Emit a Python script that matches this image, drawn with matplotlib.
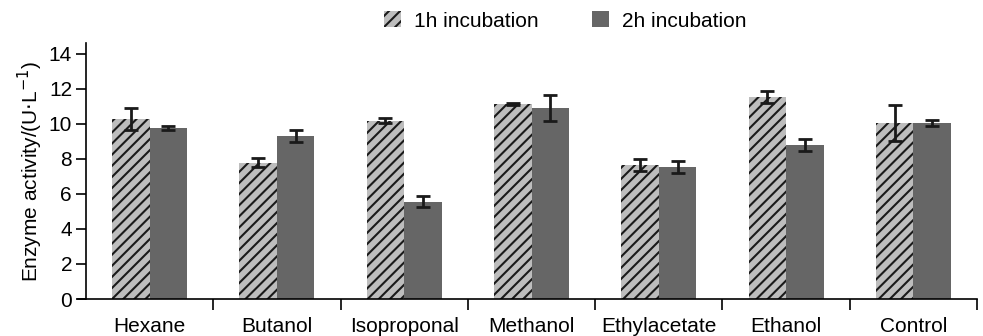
import numpy as np
import matplotlib
matplotlib.use('Agg')
import matplotlib.pyplot as plt

plt.rcParams['font.family'] = ['Liberation Sans', 'DejaVu Sans']
plt.rcParams['hatch.linewidth'] = 1.5

# data
solvents = ['Hexane', 'Butanol', 'Isoproponal', 'Methanol', 'Ethylacetate', 'Ethanol', 'Control']
act_1h = [10.27, 7.77, 10.17, 11.12, 7.64, 11.52, 10.04]
err_1h = [0.63, 0.25, 0.15, 0.07, 0.32, 0.33, 1.0]
act_2h = [9.75, 9.31, 5.56, 10.88, 7.54, 8.76, 10.04]
err_2h = [0.12, 0.33, 0.30, 0.75, 0.36, 0.34, 0.16]

fig = plt.figure(figsize=(9.83, 3.36), dpi=100)
ax = fig.add_axes([0.0875, 0.110, 0.9064, 0.762])

x = np.arange(len(solvents))
w = 0.295
ekw = dict(ecolor='#1a1a1a', elinewidth=2, capsize=5, capthick=2)
ax.bar(x - w / 2, act_1h, w, yerr=err_1h, color='#bdbdbd', hatch='///',
       edgecolor='#1a1a1a', linewidth=0, label='1h incubation', error_kw=ekw)
ax.bar(x + w / 2, act_2h, w, yerr=err_2h, color='#666666',
       linewidth=0, label='2h incubation', error_kw=ekw)

ax.set_xlim(-0.5, len(solvents) - 0.5)
ax.set_ylim(0, 14.6)
ax.set_yticks(np.arange(0, 15, 2))

# boundary ticks, labels at centres
ax.set_xticks(np.arange(0.5, len(solvents) - 0.4, 1.0))
ax.set_xticklabels([])
ax.set_xticks(x, minor=True)
ax.set_xticklabels(solvents, minor=True)
ax.tick_params(axis='x', which='major', direction='out', length=8, width=1.2)
ax.tick_params(axis='x', which='minor', length=0, pad=13, labelsize=15)
ax.tick_params(axis='y', direction='out', length=7, width=1.2, labelsize=15, pad=3)

for s in ['top', 'right']:
    ax.spines[s].set_visible(False)
ax.spines['left'].set_linewidth(1.2)
ax.spines['bottom'].set_linewidth(1.2)
ax.spines['bottom'].set_bounds(-0.56, len(solvents) - 0.5)

ax.set_ylabel('Enzyme activity/(U$\\cdot$L$^{-1}$)', fontsize=15, labelpad=3)

fig.legend(loc='center', bbox_to_anchor=(0.575, 0.9375), ncol=2, frameon=False,
           fontsize=15, handlelength=0.8, handleheight=0.8, columnspacing=2.6,
           handletextpad=0.6)

plt.savefig('out.png', dpi=100)
